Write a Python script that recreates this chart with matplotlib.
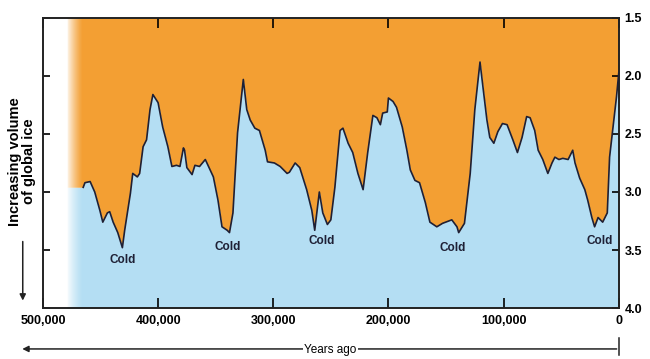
import matplotlib
matplotlib.use("Agg")
import matplotlib.pyplot as plt
import numpy as np

plt.rcParams['font.family'] = ['Liberation Sans', 'DejaVu Sans']

# oxygen-isotope ice-volume record (years ago, per-mil)
years = [479000, 465000, 463500, 459000, 455000, 450500, 448000, 444000, 442000, 439000,
         435000, 431000, 429000, 424000, 422000, 418000, 416000, 413000, 410000, 407000,
         404500, 400000, 396000, 391500, 388000, 384000, 381000, 378000, 377000, 375000,
         370500, 368000, 364000, 359000, 352000, 348000, 344500, 340000, 338000, 335000,
         331000, 326000, 323000, 320000, 316000, 312000, 307000, 305000, 299000, 294000,
         288000, 286000, 281000, 277000, 271000, 266500, 264000, 260000, 257000, 253000,
         250000, 246500, 242000, 239500, 235000, 231000, 226500, 222000, 218000, 213500,
         210000, 207000, 205000, 201000, 200000, 196000, 193000, 188000, 184000, 181000,
         177000, 173000, 168000, 164000, 158000, 153000, 145000, 140500, 139000, 134000,
         129000, 125000, 120500, 118000, 114500, 112000, 108500, 105000, 101000, 97000,
         92000, 88000, 84000, 80000, 77000, 73000, 70000, 66000, 61600, 58000,
         55500, 52000, 48600, 44000, 40000, 38000, 34000, 29500, 27000, 23400,
         21000, 18000, 14000, 10000, 8000, 5000, 2000, 0]
delta = [2.96, 2.96, 2.92, 2.91, 3.00, 3.16, 3.26, 3.18, 3.17, 3.26,
         3.35, 3.48, 3.33, 3.01, 2.84, 2.87, 2.84, 2.61, 2.55, 2.29,
         2.16, 2.23, 2.44, 2.61, 2.78, 2.77, 2.78, 2.62, 2.64, 2.79,
         2.85, 2.77, 2.78, 2.72, 2.87, 3.07, 3.30, 3.33, 3.35, 3.18,
         2.49, 2.03, 2.29, 2.38, 2.45, 2.47, 2.64, 2.74, 2.75, 2.78,
         2.84, 2.83, 2.75, 2.79, 2.98, 3.16, 3.33, 3.00, 3.18, 3.28,
         3.24, 2.96, 2.47, 2.45, 2.58, 2.66, 2.84, 2.98, 2.66, 2.34,
         2.36, 2.42, 2.32, 2.31, 2.19, 2.22, 2.27, 2.44, 2.64, 2.81,
         2.90, 2.92, 3.09, 3.26, 3.30, 3.27, 3.24, 3.30, 3.35, 3.27,
         2.84, 2.29, 1.88, 2.09, 2.38, 2.53, 2.58, 2.48, 2.41, 2.42,
         2.55, 2.66, 2.53, 2.35, 2.36, 2.47, 2.64, 2.72, 2.84, 2.75,
         2.70, 2.72, 2.71, 2.72, 2.64, 2.75, 2.88, 2.98, 3.07, 3.22,
         3.30, 3.22, 3.26, 3.18, 2.70, 2.44, 2.18, 1.97]

x_ticks = [500000, 400000, 300000, 200000, 100000, 0]
x_labels = ["500,000", "400,000", "300,000", "200,000", "100,000", "0"]
y_ticks = [1.5, 2.0, 2.5, 3.0, 3.5, 4.0]
y_labels = ["1.5", "2.0", "2.5", "3.0", "3.5", "4.0"]

cold_years = [431000, 340000, 258000, 144000, 17000]
cold_vals = [3.59, 3.47, 3.42, 3.48, 3.42]

ORANGE = "#F39F33"
BLUE = "#B4DEF3"
INK = "#1E2035"

fig = plt.figure(figsize=(6.5, 3.59), dpi=100)
ax = fig.add_axes([0.066, 0.142, 0.886, 0.808])
ax.set_xlim(500000, 0)
ax.set_ylim(4.0, 1.5)

ax.fill_between(years, 1.5, delta, color=ORANGE, lw=0, zorder=1)
ax.fill_between(years, delta, 4.0, color=BLUE, lw=0, zorder=1)
# the traced line begins where the core record starts, not at the panel edge
ax.plot(years[1:], delta[1:], color=INK, lw=1.2, zorder=3)

# soft white fade on the left edge of the coloured panel
grad = np.ones((2, 64, 4))
grad[:, :, 3] = np.linspace(1, 0, 64) ** 1.3
ax.imshow(grad, extent=(480000, 466000, 4.0, 1.5), aspect="auto", zorder=2)

for cx, cy in zip(cold_years, cold_vals):
    ax.text(cx, cy, "Cold", ha="center", va="center", fontsize=8.5,
            fontweight="bold", color=INK, zorder=4)

for s in ax.spines.values():
    s.set_linewidth(1.4)
    s.set_color("#222222")

ax.set_xticks(x_ticks)
ax.set_xticklabels(x_labels, fontsize=9, fontweight="bold")
ax.tick_params(axis="x", which="both", direction="in", length=7, width=1.2,
               top=True, bottom=True, pad=5)
ax.set_yticks(y_ticks)
ax.yaxis.tick_right()
ax.set_yticklabels(y_labels, fontsize=9, fontweight="bold")
ax.tick_params(axis="y", which="both", direction="in", length=5, width=1.2,
               left=True, right=True, labelleft=False, labelright=True, pad=4)

# y-axis caption with downward arrow
fig.text(0.034, 0.55, "Increasing volume\nof global ice", rotation=90, ha="center",
         va="center", fontsize=10.5, fontweight="bold", linespacing=1.0)
fig.add_artist(matplotlib.patches.FancyArrowPatch(
    (0.035, 0.335), (0.035, 0.155), transform=fig.transFigure,
    arrowstyle="-|>", mutation_scale=9, color="#222222", lw=1.1))

# bottom "Years ago" arrow
fig.add_artist(matplotlib.patches.FancyArrowPatch(
    (0.953, 0.028), (0.03, 0.028), transform=fig.transFigure,
    arrowstyle="-|>", mutation_scale=9, color="#222222", lw=1.1))
fig.add_artist(matplotlib.lines.Line2D([0.953, 0.953], [0.011, 0.058],
                                       transform=fig.transFigure, color="#222222", lw=1.1))
fig.text(0.508, 0.026, "Years ago", ha="center", va="center", fontsize=8.5,
         bbox=dict(fc="white", ec="none", pad=1))

fig.savefig("out.png", dpi=100, facecolor="white")
